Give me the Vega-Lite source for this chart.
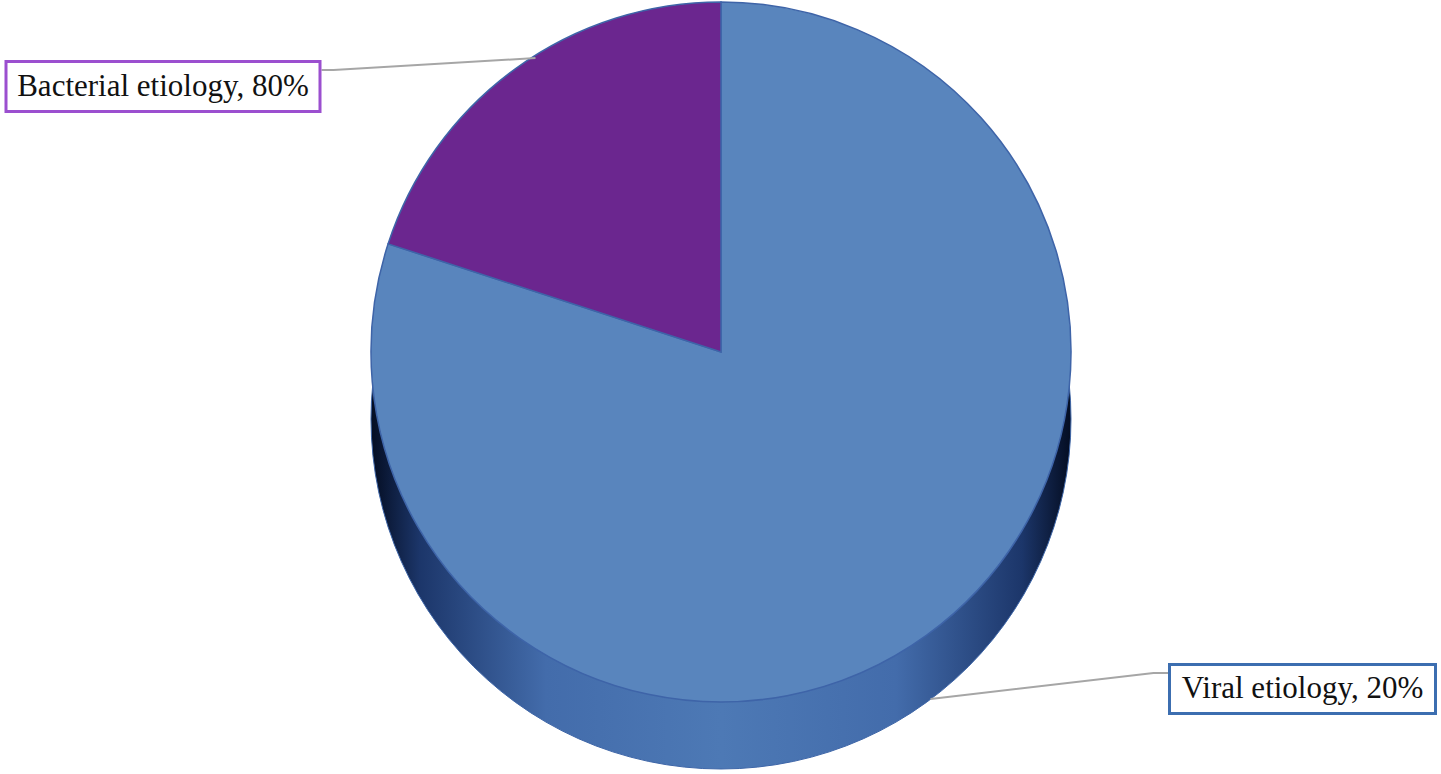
{
  "$schema": "https://vega.github.io/schema/vega-lite/v6.json",
  "width": 1441,
  "height": 774,
  "autosize": {"type": "fit", "contains": "padding"},
  "padding": 0,
  "background": "white",
  "config": {"view": {"stroke": null}},
  "data": {
    "values": [
      {"slice": "Viral etiology", "label": "Viral etiology, 20%", "drawn_share": 80, "rank": 1},
      {"slice": "Bacterial etiology", "label": "Bacterial etiology, 80%", "drawn_share": 20, "rank": 2}
    ]
  },
  "layer": [
    {
      "mark": {
        "type": "arc",
        "radius": 350,
        "yOffset": 31,
        "stroke": "#3e66a8",
        "strokeWidth": 1,
        "fill": {
          "gradient": "linear",
          "x1": 0, "y1": 0, "x2": 1, "y2": 0,
          "stops": [
            {"offset": 0, "color": "#040d22"},
            {"offset": 0.07, "color": "#1c366a"},
            {"offset": 0.25, "color": "#436cab"},
            {"offset": 0.5, "color": "#4d79b5"},
            {"offset": 0.75, "color": "#436cab"},
            {"offset": 0.93, "color": "#1c366a"},
            {"offset": 1, "color": "#040d22"}
          ]
        }
      },
      "encoding": {
        "theta": {"field": "drawn_share", "type": "quantitative", "stack": true},
        "order": {"field": "rank", "type": "quantitative"}
      }
    },
    {
      "mark": {"type": "arc", "radius": 350, "yOffset": -36, "stroke": "#3e64a8", "strokeWidth": 1.5},
      "encoding": {
        "theta": {"field": "drawn_share", "type": "quantitative", "stack": true},
        "order": {"field": "rank", "type": "quantitative"},
        "color": {
          "field": "slice",
          "type": "nominal",
          "scale": {"domain": ["Viral etiology", "Bacterial etiology"], "range": ["#5985bd", "#6b268f"]},
          "legend": null
        }
      }
    },
    {
      "transform": [{"filter": "datum.slice === 'Bacterial etiology'"}],
      "mark": {
        "type": "point",
        "shape": "M-1,0.0561L-0.888,0.0561L1,-0.0561",
        "size": 45796,
        "filled": false,
        "stroke": "#a6a6a6",
        "strokeWidth": 2,
        "opacity": 1,
        "xOffset": -292.5,
        "yOffset": -324
      },
      "encoding": {}
    },
    {
      "transform": [{"filter": "datum.slice === 'Viral etiology'"}],
      "mark": {
        "type": "point",
        "shape": "M-1,0.1092L0.874,-0.1092L1,-0.1092",
        "size": 56644,
        "filled": false,
        "stroke": "#a6a6a6",
        "strokeWidth": 2,
        "opacity": 1,
        "xOffset": 328.5,
        "yOffset": 298
      },
      "encoding": {}
    },
    {
      "transform": [{"filter": "datum.slice === 'Bacterial etiology'"}],
      "mark": {
        "type": "point",
        "shape": "M-1,-0.1592L1,-0.1592L1,0.1592L-1,0.1592Z",
        "size": 98596,
        "fill": "white",
        "fillOpacity": 1,
        "stroke": "#9b4fcf",
        "strokeWidth": 3,
        "opacity": 1,
        "xOffset": -558,
        "yOffset": -301.5
      },
      "encoding": {}
    },
    {
      "transform": [{"filter": "datum.slice === 'Viral etiology'"}],
      "mark": {
        "type": "point",
        "shape": "M-1,-0.1842L1,-0.1842L1,0.1842L-1,0.1842Z",
        "size": 70756,
        "fill": "white",
        "fillOpacity": 1,
        "stroke": "#3c6eb0",
        "strokeWidth": 3,
        "opacity": 1,
        "xOffset": 581.5,
        "yOffset": 301
      },
      "encoding": {}
    },
    {
      "mark": {
        "type": "text",
        "radius": 644.5,
        "thetaOffset": -0.4562,
        "dx": 11.75,
        "font": "Liberation Serif",
        "fontSize": 31,
        "color": "#111111",
        "align": "center",
        "baseline": "middle"
      },
      "encoding": {
        "theta": {"field": "drawn_share", "type": "quantitative", "stack": true},
        "order": {"field": "rank", "type": "quantitative"},
        "text": {"field": "label", "type": "nominal"}
      }
    }
  ]
}
